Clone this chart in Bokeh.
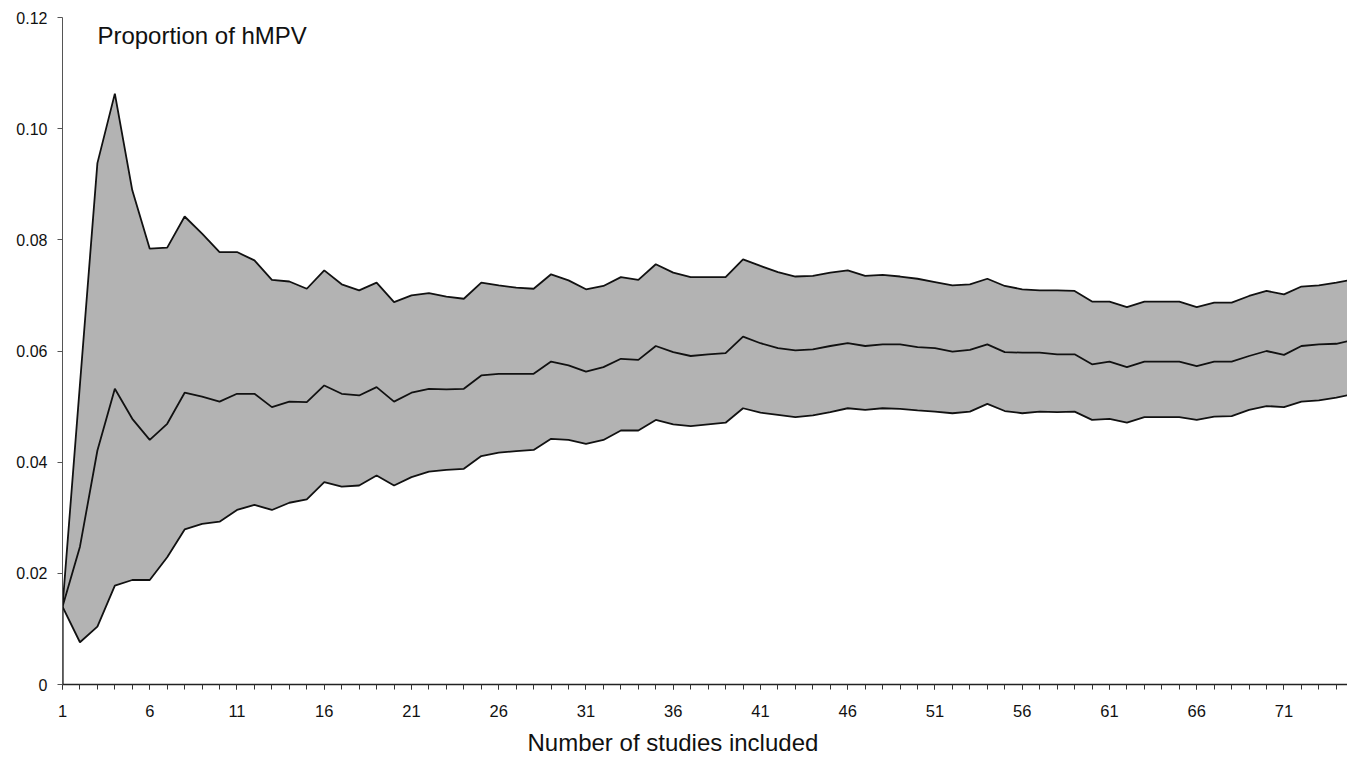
from bokeh.plotting import figure
from bokeh.models import Range1d, FixedTicker, Label, Title, ColumnDataSource
from bokeh.embed import file_html
from bokeh.resources import INLINE

# ---- data ----
studies = list(range(1, 76))

upper = [0.0140, 0.0540, 0.0938, 0.1063, 0.0889, 0.0784, 0.0786, 0.0842, 0.0811, 0.0778,
         0.0778, 0.0763, 0.0728, 0.0725, 0.0712, 0.0745, 0.0720, 0.0709, 0.0723, 0.0688,
         0.0700, 0.0704, 0.0698, 0.0694, 0.0723, 0.0718, 0.0714, 0.0712, 0.0738, 0.0727,
         0.0711, 0.0717, 0.0733, 0.0728, 0.0756, 0.0741, 0.0733, 0.0733, 0.0733, 0.0765,
         0.0753, 0.0742, 0.0734, 0.0735, 0.0741, 0.0745, 0.0735, 0.0737, 0.0734, 0.0730,
         0.0724, 0.0718, 0.0720, 0.0730, 0.0717, 0.0711, 0.0709, 0.0709, 0.0708, 0.0689,
         0.0689, 0.0679, 0.0689, 0.0689, 0.0689, 0.0679, 0.0687, 0.0687, 0.0699, 0.0708,
         0.0702, 0.0716, 0.0718, 0.0723, 0.0729]

pooled = [0.0140, 0.0248, 0.0421, 0.0532, 0.0478, 0.0440, 0.0469, 0.0525, 0.0518, 0.0509,
          0.0523, 0.0523, 0.0499, 0.0509, 0.0508, 0.0538, 0.0523, 0.0520, 0.0535, 0.0509,
          0.0525, 0.0532, 0.0531, 0.0532, 0.0556, 0.0559, 0.0559, 0.0559, 0.0581, 0.0574,
          0.0563, 0.0571, 0.0586, 0.0584, 0.0609, 0.0598, 0.0591, 0.0594, 0.0596, 0.0626,
          0.0614, 0.0605, 0.0601, 0.0603, 0.0609, 0.0614, 0.0609, 0.0612, 0.0612, 0.0607,
          0.0605, 0.0599, 0.0602, 0.0612, 0.0598, 0.0597, 0.0597, 0.0594, 0.0594, 0.0576,
          0.0581, 0.0571, 0.0581, 0.0581, 0.0581, 0.0573, 0.0581, 0.0581, 0.0591, 0.0600,
          0.0593, 0.0609, 0.0612, 0.0613, 0.0620]

lower = [0.0140, 0.0076, 0.0104, 0.0178, 0.0188, 0.0188, 0.0229, 0.0279, 0.0289, 0.0293,
         0.0314, 0.0323, 0.0314, 0.0327, 0.0333, 0.0364, 0.0356, 0.0358, 0.0376, 0.0358,
         0.0373, 0.0383, 0.0386, 0.0388, 0.0411, 0.0417, 0.0420, 0.0422, 0.0442, 0.0440,
         0.0433, 0.0440, 0.0457, 0.0457, 0.0476, 0.0468, 0.0465, 0.0468, 0.0471, 0.0497,
         0.0489, 0.0485, 0.0481, 0.0484, 0.0490, 0.0497, 0.0494, 0.0497, 0.0496, 0.0493,
         0.0491, 0.0488, 0.0491, 0.0505, 0.0492, 0.0488, 0.0491, 0.0490, 0.0491, 0.0476,
         0.0478, 0.0471, 0.0481, 0.0481, 0.0481, 0.0476, 0.0482, 0.0483, 0.0494, 0.0501,
         0.0499, 0.0509, 0.0511, 0.0516, 0.0523]

x_tick_values = [1, 6, 11, 16, 21, 26, 31, 36, 41, 46, 51, 56, 61, 66, 71]
y_tick_values = [0, 0.02, 0.04, 0.06, 0.08, 0.10, 0.12]
y_tick_labels = ["0", "0.02", "0.04", "0.06", "0.08", "0.10", "0.12"]

title_text = "Proportion of hMPV"
x_label_text = "Number of studies included"

FONT = "Liberation Sans"

p = figure(width=1347, height=767, output_backend="svg", toolbar_location=None,
           x_range=Range1d(1, 74.64), y_range=Range1d(0, 0.12),
           min_border_left=62, min_border_right=0, min_border_top=17, min_border_bottom=83)
p.outline_line_color = None
p.xgrid.visible = False
p.ygrid.visible = False
p.background_fill_color = "white"
p.border_fill_color = "white"

src = ColumnDataSource(dict(x=studies, upper=upper, mid=pooled, lower=lower))
p.varea(x="x", y1="lower", y2="upper", source=src, fill_color="#b3b3b3")
for col in ["upper", "mid", "lower"]:
    p.line("x", col, source=src, line_color="#111111", line_width=1.8)
p.segment(x0=[studies[0]], y0=[y_tick_values[0]], x1=[studies[0]], y1=[lower[0]],
          line_color="#111111", line_width=2.2)

# x axis
xa = p.xaxis[0]
xa.ticker = FixedTicker(ticks=x_tick_values, minor_ticks=studies)
xa.major_tick_in = 0
xa.major_tick_out = 5
xa.minor_tick_in = 0
xa.minor_tick_out = 5
xa.axis_line_color = "#222222"
xa.axis_line_width = 1.6
xa.major_tick_line_color = "#333333"
xa.minor_tick_line_color = "#333333"
xa.major_label_text_font = FONT
xa.major_label_text_font_size = "16.5px"
xa.major_label_text_color = "#111111"
xa.major_label_standoff = 15

# y axis
ya = p.yaxis[0]
ya.ticker = FixedTicker(ticks=y_tick_values, minor_ticks=[])
ya.major_label_overrides = dict(zip(y_tick_values, y_tick_labels))
ya.major_tick_in = 0
ya.major_tick_out = 5
ya.minor_tick_out = 0
ya.minor_tick_in = 0
ya.axis_line_color = "#555555"
ya.axis_line_width = 1
ya.major_tick_line_color = "#555555"
ya.major_label_text_font = FONT
ya.major_label_text_font_size = "16px"
ya.major_label_text_color = "#111111"
ya.major_label_standoff = 10

p.add_layout(Label(x=3.0, y=0.1167, text=title_text, text_font=FONT,
                   text_font_size="24px", text_color="#111111",
                   text_baseline="alphabetic"))

p.add_layout(Title(text=x_label_text, align="left", offset=465, standoff=15,
                   text_font=FONT, text_font_size="24px", text_font_style="normal",
                   text_color="#111111"), "below")

open("out.html", "w").write(file_html(p, INLINE))
